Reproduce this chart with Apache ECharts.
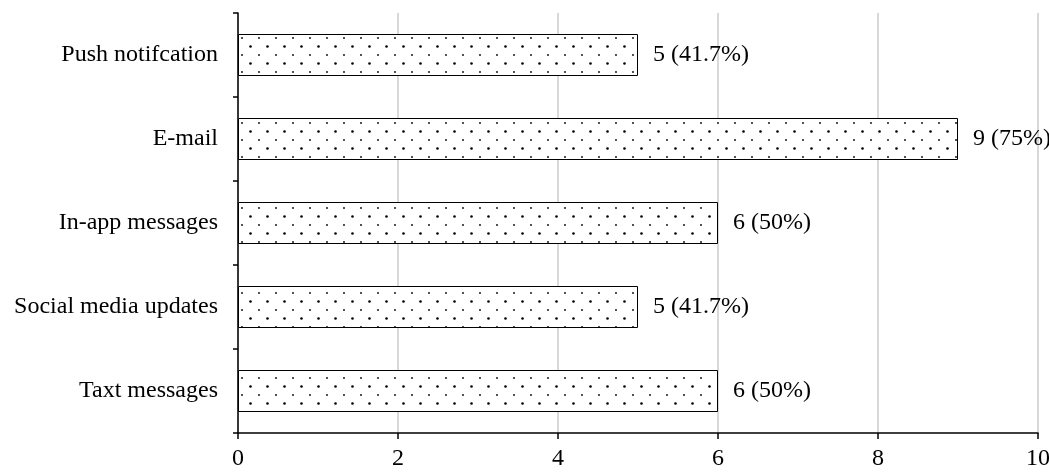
<!DOCTYPE html>
<html>
<head>
<meta charset="utf-8">
<script src="https://cdn.jsdelivr.net/npm/echarts@6/dist/echarts.min.js"></script>
<style>html,body{margin:0;padding:0;background:#fff;}#c{width:1049px;height:472px;}</style>
</head>
<body>
<div id="c"></div>
<script>
const categories = ["Push notifcation", "E-mail", "In-app messages", "Social media updates", "Taxt messages"];
const counts = [5, 9, 6, 5, 6];
const percents = ["41.7%", "75%", "50%", "41.7%", "50%"];
const xTicks = [0, 2, 4, 6, 8, 10];

function makePattern() {
  const c = document.createElement('canvas');
  c.width = 17; c.height = 17;
  const g = c.getContext('2d');
  g.fillStyle = '#ffffff';
  g.fillRect(0, 0, 17, 17);
  g.fillStyle = '#000';
  g.beginPath(); g.arc(4, 4, 0.9, 0, Math.PI * 2); g.fill();
  g.beginPath(); g.arc(12.5, 12.5, 1.3, 0, Math.PI * 2); g.fill();
  return c;
}

const chart = echarts.init(document.getElementById('c'), null, { renderer: 'canvas' });
const font = 'Liberation Serif';
chart.setOption({
  animation: false,
  backgroundColor: '#fff',
  grid: { left: 238, right: 11, top: 13, bottom: 39, containLabel: false, outerBoundsMode: 'none' },
  xAxis: {
    type: 'value', min: xTicks[0], max: xTicks[xTicks.length - 1], interval: 2,
    axisLine: { show: true, lineStyle: { color: '#000', width: 1.5 } },
    axisTick: { show: true, length: 6, lineStyle: { color: '#000', width: 1.5 } },
    axisLabel: { color: '#000', fontFamily: font, fontSize: 24, margin: 14 },
    splitLine: { show: true, lineStyle: { color: '#d9d9d9', width: 2 } }
  },
  yAxis: {
    type: 'category', data: categories, inverse: true,
    axisLine: { show: true, lineStyle: { color: '#000', width: 1.5 } },
    axisTick: { show: true, length: 5, alignWithLabel: false, lineStyle: { color: '#000', width: 1.5 } },
    axisLabel: { color: '#000', fontFamily: font, fontSize: 24, margin: 20 },
    splitLine: { show: false }
  },
  series: [{
    type: 'bar',
    data: counts,
    barWidth: '50%',
    itemStyle: {
      color: { image: makePattern(), repeat: 'repeat' },
      borderColor: '#000', borderWidth: 1
    },
    label: {
      show: true, position: 'right', distance: 15,
      color: '#000', fontFamily: font, fontSize: 24,
      formatter: p => counts[p.dataIndex] + ' (' + percents[p.dataIndex] + ')'
    }
  }]
});
</script>
</body>
</html>
